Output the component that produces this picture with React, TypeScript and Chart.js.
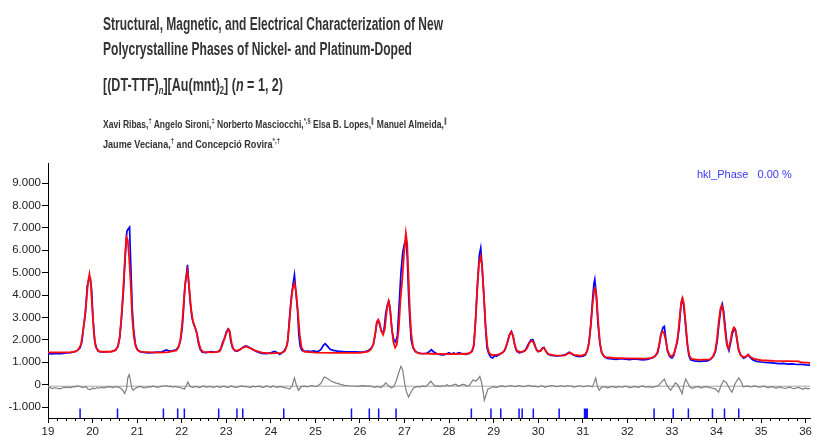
import React, { useEffect, useLayoutEffect, useRef } from "react";
import { Chart, registerables } from "chart.js";

Chart.register(...registerables);

// ---------- axis ticks ----------
const xTickValues = [19, 20, 21, 22, 23, 24, 25, 26, 27, 28, 29, 30, 31, 32, 33, 34, 35, 36];
const yTickValues = [-1000, 0, 1000, 2000, 3000, 4000, 5000, 6000, 7000, 8000, 9000];
const xMinorStep = 0.2;

// ---------- observed pattern (blue) [2theta, counts] ----------
const observed: [number, number][] = [
  [19.0, 1380], [19.1, 1370], [19.2, 1400], [19.3, 1390], [19.4, 1420], [19.5, 1430], [19.6, 1470],
  [19.66, 1530], [19.72, 1650], [19.76, 1900], [19.8, 2600], [19.84, 3200], [19.88, 4400], [19.92, 4720],
  [19.95, 4760], [19.98, 4200], [20.01, 2950], [20.05, 1900], [20.09, 1620], [20.15, 1470], [20.25, 1460],
  [20.35, 1470], [20.45, 1480], [20.52, 1560], [20.57, 1700], [20.61, 2100], [20.65, 3000], [20.69, 4100],
  [20.73, 5600], [20.77, 6850], [20.8, 6950], [20.83, 7030], [20.86, 5200], [20.89, 3400], [20.92, 2500],
  [20.96, 1800], [21.0, 1580], [21.06, 1470], [21.15, 1440], [21.25, 1420], [21.35, 1430], [21.45, 1450],
  [21.55, 1470], [21.62, 1520], [21.66, 1550], [21.72, 1500], [21.8, 1520], [21.88, 1560], [21.93, 1700],
  [21.97, 1950], [22.01, 2500], [22.04, 3300], [22.07, 4350], [22.1, 4800], [22.13, 5350], [22.16, 4500],
  [22.19, 3700], [22.23, 3000], [22.27, 2700], [22.31, 2500], [22.34, 2300], [22.37, 1900], [22.41, 1600],
  [22.46, 1450], [22.55, 1430], [22.65, 1470], [22.75, 1450], [22.82, 1480], [22.87, 1560], [22.92, 1900],
  [22.96, 2050], [23.0, 2350], [23.04, 2480], [23.07, 2430], [23.1, 1950], [23.14, 1650], [23.19, 1520],
  [23.25, 1500], [23.32, 1580], [23.4, 1700], [23.45, 1730], [23.5, 1680], [23.6, 1560], [23.7, 1460],
  [23.8, 1400], [23.9, 1390], [24.0, 1420], [24.08, 1480], [24.14, 1440], [24.2, 1350], [24.25, 1430],
  [24.3, 1500], [24.35, 1700], [24.38, 1950], [24.42, 3000], [24.46, 3900], [24.5, 4500], [24.53, 4900],
  [24.56, 4200], [24.6, 3300], [24.63, 2200], [24.66, 1700], [24.7, 1520], [24.76, 1490], [24.84, 1500],
  [24.9, 1480], [24.96, 1510], [25.05, 1470], [25.12, 1560], [25.18, 1760], [25.22, 1830], [25.27, 1720],
  [25.33, 1580], [25.4, 1530], [25.5, 1500], [25.6, 1480], [25.7, 1460], [25.8, 1470], [25.9, 1470],
  [26.0, 1450], [26.1, 1470], [26.18, 1510], [26.25, 1620], [26.3, 1800], [26.34, 2200], [26.38, 2800],
  [26.41, 2880], [26.44, 2700], [26.48, 2400], [26.51, 2300], [26.54, 2450], [26.58, 3200], [26.62, 3600],
  [26.65, 3700], [26.68, 3300], [26.72, 2400], [26.76, 2000], [26.8, 1900], [26.84, 2200], [26.88, 3600],
  [26.92, 5000], [26.96, 5900], [27.0, 6300], [27.03, 6450], [27.06, 5800], [27.09, 4100], [27.12, 2900],
  [27.15, 2000], [27.19, 1650], [27.24, 1500], [27.3, 1420], [27.4, 1380], [27.5, 1400], [27.56, 1480],
  [27.6, 1560], [27.65, 1470], [27.72, 1390], [27.8, 1340], [27.88, 1330], [27.95, 1380], [28.0, 1430],
  [28.05, 1360], [28.1, 1420], [28.15, 1370], [28.22, 1430], [28.3, 1380], [28.38, 1350], [28.45, 1390],
  [28.52, 1500], [28.56, 1800], [28.6, 3100], [28.64, 4600], [28.68, 5800], [28.71, 6100], [28.74, 5300],
  [28.78, 4000], [28.82, 2500], [28.85, 1650], [28.89, 1380], [28.94, 1220], [28.98, 1190], [29.02, 1300],
  [29.06, 1270], [29.12, 1340], [29.18, 1410], [29.24, 1500], [29.28, 1700], [29.32, 1950], [29.36, 2250],
  [29.4, 2380], [29.44, 2150], [29.48, 1700], [29.52, 1480], [29.58, 1420], [29.64, 1460], [29.7, 1520],
  [29.74, 1650], [29.79, 1850], [29.84, 2000], [29.88, 2010], [29.92, 1800], [29.96, 1560], [30.0, 1480],
  [30.05, 1520], [30.1, 1650], [30.13, 1660], [30.17, 1500], [30.22, 1360], [30.3, 1300], [30.4, 1280],
  [30.5, 1290], [30.6, 1330], [30.66, 1400], [30.7, 1450], [30.76, 1360], [30.84, 1280], [30.92, 1250],
  [31.0, 1270], [31.06, 1330], [31.1, 1520], [31.14, 1900], [31.18, 2700], [31.22, 3800], [31.25, 4500],
  [31.27, 4700], [31.3, 4100], [31.34, 2750], [31.38, 1900], [31.42, 1450], [31.48, 1250], [31.55, 1170],
  [31.65, 1150], [31.75, 1130], [31.85, 1160], [31.95, 1140], [32.05, 1120], [32.15, 1150], [32.25, 1130],
  [32.35, 1110], [32.45, 1130], [32.52, 1170], [32.58, 1210], [32.63, 1290], [32.68, 1420], [32.72, 1800],
  [32.76, 2300], [32.8, 2550], [32.83, 2600], [32.86, 2100], [32.9, 1500], [32.95, 1260], [33.0, 1190],
  [33.04, 1300], [33.08, 1600], [33.12, 1900], [33.16, 2500], [33.2, 3500], [33.23, 3800], [33.26, 3600],
  [33.3, 2800], [33.34, 1900], [33.38, 1300], [33.42, 1110], [33.5, 1060], [33.6, 1040], [33.7, 1050],
  [33.8, 1060], [33.88, 1150], [33.94, 1300], [33.98, 1500], [34.02, 2000], [34.06, 2800], [34.1, 3400],
  [34.13, 3600], [34.16, 3300], [34.2, 2500], [34.24, 1750], [34.28, 1520], [34.32, 1900], [34.36, 2300],
  [34.4, 2500], [34.43, 2400], [34.46, 2000], [34.5, 1500], [34.55, 1300], [34.61, 1180], [34.66, 1230],
  [34.71, 1340], [34.76, 1200], [34.82, 1100], [34.9, 1040], [35.0, 1010], [35.1, 990], [35.2, 980],
  [35.3, 960], [35.4, 940], [35.5, 950], [35.6, 920], [35.7, 930], [35.8, 900], [35.9, 910], [36.0, 880],
  [36.1, 870],
];

// ---------- calculated pattern (red) ----------
const calculated: [number, number][] = [
  [19.0, 1440], [19.5, 1440], [19.62, 1480], [19.68, 1560], [19.74, 1800], [19.78, 2300], [19.82, 2900],
  [19.86, 3700], [19.9, 4600], [19.93, 4940], [19.96, 4500], [19.99, 3500], [20.03, 2300], [20.07, 1700],
  [20.12, 1500], [20.2, 1470], [20.4, 1470], [20.52, 1540], [20.57, 1720], [20.61, 2150], [20.65, 3100],
  [20.69, 4300], [20.73, 5800], [20.76, 6600], [20.79, 6450], [20.82, 5700], [20.86, 4300], [20.89, 3000],
  [20.93, 2100], [20.97, 1700], [21.02, 1520], [21.1, 1460], [21.5, 1430], [21.7, 1450], [21.88, 1530],
  [21.93, 1680], [21.97, 2000], [22.01, 2700], [22.05, 3800], [22.09, 4700], [22.13, 5090], [22.17, 4300],
  [22.21, 3400], [22.25, 2850], [22.3, 2550], [22.34, 2300], [22.38, 1900], [22.42, 1600], [22.48, 1460],
  [22.7, 1440], [22.85, 1480], [22.9, 1700], [22.95, 2000], [23.0, 2300], [23.05, 2480], [23.08, 2350],
  [23.12, 1850], [23.16, 1600], [23.22, 1500], [23.3, 1560], [23.4, 1680], [23.46, 1700], [23.55, 1620],
  [23.65, 1520], [23.8, 1430], [24.0, 1400], [24.25, 1420], [24.32, 1520], [24.37, 1800], [24.41, 2600],
  [24.45, 3600], [24.49, 4300], [24.53, 4540], [24.57, 4100], [24.61, 3200], [24.65, 2200], [24.69, 1650],
  [24.75, 1470], [25.0, 1430], [25.5, 1420], [26.0, 1420], [26.18, 1470], [26.25, 1580], [26.3, 1800],
  [26.34, 2250], [26.38, 2800], [26.41, 2900], [26.44, 2750], [26.48, 2400], [26.52, 2230], [26.56, 2500],
  [26.6, 3300], [26.64, 3720], [26.67, 3500], [26.71, 2600], [26.75, 1900], [26.79, 1650], [26.83, 1800],
  [26.87, 2500], [26.91, 3800], [26.95, 4700], [26.99, 5900], [27.03, 6770], [27.06, 6300], [27.09, 4800],
  [27.12, 3300], [27.15, 2300], [27.19, 1700], [27.24, 1480], [27.32, 1400], [27.6, 1380], [28.0, 1360],
  [28.4, 1380], [28.5, 1450], [28.55, 1700], [28.59, 2700], [28.63, 4200], [28.67, 5400], [28.71, 5730],
  [28.74, 5300], [28.78, 4000], [28.82, 2600], [28.86, 1700], [28.9, 1400], [28.96, 1320], [29.1, 1340],
  [29.2, 1420], [29.26, 1580], [29.31, 1900], [29.35, 2200], [29.39, 2350], [29.43, 2200], [29.47, 1800],
  [29.52, 1520], [29.6, 1450], [29.7, 1500], [29.75, 1620], [29.8, 1850], [29.85, 1960], [29.89, 1900],
  [29.94, 1650], [29.99, 1480], [30.05, 1500], [30.1, 1620], [30.13, 1640], [30.17, 1500], [30.23, 1360],
  [30.4, 1300], [30.6, 1310], [30.68, 1400], [30.73, 1420], [30.8, 1330], [30.95, 1290], [31.05, 1350],
  [31.1, 1500], [31.14, 1850], [31.18, 2600], [31.22, 3600], [31.26, 4250], [31.28, 4315], [31.31, 3900],
  [31.35, 2700], [31.39, 1800], [31.43, 1400], [31.5, 1230], [31.7, 1190], [32.0, 1170], [32.4, 1160],
  [32.55, 1200], [32.62, 1270], [32.67, 1420], [32.71, 1750], [32.75, 2200], [32.79, 2380], [32.82, 2330],
  [32.86, 2000], [32.9, 1550], [32.95, 1320], [33.0, 1260], [33.05, 1400], [33.09, 1700], [33.13, 2100],
  [33.17, 2900], [33.21, 3700], [33.24, 3870], [33.27, 3600], [33.31, 2700], [33.35, 1800], [33.39, 1300],
  [33.44, 1150], [33.6, 1110], [33.85, 1130], [33.92, 1250], [33.97, 1500], [34.01, 2000], [34.05, 2800],
  [34.09, 3400], [34.12, 3550], [34.15, 3300], [34.19, 2500], [34.23, 1800], [34.27, 1600], [34.31, 1900],
  [34.35, 2350], [34.39, 2560], [34.42, 2500], [34.46, 2050], [34.5, 1550], [34.55, 1300], [34.61, 1220],
  [34.66, 1260], [34.71, 1340], [34.76, 1250], [34.84, 1150], [35.0, 1090], [35.3, 1060], [35.6, 1050],
  [35.85, 1040], [35.9, 990], [36.1, 970],
];

// ---------- difference curve (grey) ----------
const difference: [number, number][] = [
  [19.0, -150], [19.05, -120], [19.1, -180], [19.15, -140], [19.2, -150], [19.25, -190], [19.3, -170],
  [19.35, -120], [19.4, -130], [19.45, -100], [19.5, -140], [19.55, -90], [19.6, -100], [19.65, -60],
  [19.7, -80], [19.75, -110], [19.8, -120], [19.85, -90], [19.9, -200], [19.95, -220], [20.0, -150],
  [20.05, -190], [20.1, -130], [20.15, -160], [20.2, -110], [20.25, -140], [20.3, -120], [20.35, -90],
  [20.4, -100], [20.45, -130], [20.5, -90], [20.6, -120], [20.68, -250], [20.72, -400], [20.76, -200],
  [20.79, 300], [20.82, 446], [20.85, 200], [20.88, -150], [20.91, -250], [20.95, -180], [21.0, -120],
  [21.05, -80], [21.1, -100], [21.15, -140], [21.2, -130], [21.25, -90], [21.3, -110], [21.35, -70],
  [21.4, -90], [21.45, -120], [21.5, -100], [21.55, -70], [21.6, -60], [21.65, -40], [21.7, -90],
  [21.75, -70], [21.8, -110], [21.85, -80], [21.9, -100], [22.0, -150], [22.06, -200], [22.1, -50],
  [22.14, 120], [22.18, -60], [22.25, -130], [22.3, -80], [22.35, -100], [22.4, -130], [22.45, -90],
  [22.5, -60], [22.55, -120], [22.6, -90], [22.65, -80], [22.7, -120], [22.75, -100], [22.8, -70],
  [22.85, -130], [22.9, -90], [22.95, -70], [23.0, -110], [23.05, -120], [23.1, -60], [23.15, -90],
  [23.2, -120], [23.25, -110], [23.3, -80], [23.35, -60], [23.4, -90], [23.45, -80], [23.5, -110],
  [23.55, -120], [23.6, -70], [23.65, -100], [23.7, -80], [23.75, -70], [23.8, -120], [23.85, -110],
  [23.9, -60], [23.95, -90], [24.0, -120], [24.05, -60], [24.1, -100], [24.15, -120], [24.2, -80],
  [24.25, -100], [24.3, -130], [24.35, -150], [24.42, -195], [24.48, -50], [24.53, 300], [24.57, 0],
  [24.62, -250], [24.68, -100], [24.75, -60], [24.8, -100], [24.85, -80], [24.9, -40], [24.95, -50],
  [25.0, -90], [25.05, -60], [25.12, 50], [25.2, 340], [25.28, 260], [25.36, 150], [25.45, 80],
  [25.55, 20], [25.65, -30], [25.75, -50], [25.85, -60], [25.95, -80], [26.05, -40], [26.15, -70],
  [26.25, -60], [26.32, -120], [26.4, -80], [26.47, -130], [26.53, -30], [26.58, 75], [26.63, -20],
  [26.7, -140], [26.76, -100], [26.82, 200], [26.88, 600], [26.92, 820], [26.96, 650], [27.0, 100],
  [27.04, -300], [27.09, -550], [27.14, -350], [27.2, -150], [27.25, -110], [27.3, -80], [27.35, -110],
  [27.4, -60], [27.45, -90], [27.5, -50], [27.59, 150], [27.66, -20], [27.7, -80], [27.75, -60],
  [27.8, -90], [27.85, -40], [27.9, -70], [27.95, 0], [28.0, -60], [28.05, -40], [28.1, -10],
  [28.15, 20], [28.2, -60], [28.25, -30], [28.3, 10], [28.35, 0], [28.4, -70], [28.45, -50],
  [28.5, 100], [28.54, 220], [28.6, 150], [28.65, 250], [28.69, 370], [28.73, 100], [28.77, -400],
  [28.79, -700], [28.83, -450], [28.87, -200], [28.93, -150], [29.0, -80], [29.05, -130], [29.1, -100],
  [29.15, -70], [29.2, -60], [29.25, -100], [29.3, -70], [29.35, -50], [29.4, -40], [29.45, -80],
  [29.5, -90], [29.55, -40], [29.6, -50], [29.65, -90], [29.7, -80], [29.75, -50], [29.8, -30],
  [29.85, -80], [29.9, -70], [30.0, -100], [30.08, -40], [30.15, -120], [30.2, -80], [30.25, -70],
  [30.3, -40], [30.35, -50], [30.4, -90], [30.45, -80], [30.5, -50], [30.55, -60], [30.6, -90],
  [30.65, -40], [30.7, -60], [30.75, -70], [30.8, -110], [30.85, -90], [30.9, -50], [30.95, -60],
  [31.0, -90], [31.05, -80], [31.1, -50], [31.15, -60], [31.22, -100], [31.29, 300], [31.33, -100],
  [31.37, -250], [31.42, -120], [31.5, -90], [31.55, -140], [31.6, -120], [31.65, -80], [31.7, -100],
  [31.75, -130], [31.8, -80], [31.85, -100], [31.9, -110], [31.95, -70], [32.0, -90], [32.05, -130],
  [32.1, -120], [32.15, -80], [32.2, -100], [32.25, -120], [32.3, -80], [32.35, -60], [32.4, -110],
  [32.45, -100], [32.5, -90], [32.55, -120], [32.6, -100], [32.7, -40], [32.78, 150], [32.83, 250],
  [32.88, 0], [32.97, -250], [33.02, -100], [33.08, 75], [33.13, 0], [33.18, -200], [33.23, -400],
  [33.27, 0], [33.31, 250], [33.35, 100], [33.4, -100], [33.45, -160], [33.5, -130], [33.55, -100],
  [33.6, -90], [33.65, -140], [33.7, -120], [33.75, -90], [33.8, -100], [33.85, -130], [33.9, -150],
  [33.98, -200], [34.05, -340], [34.1, -50], [34.16, 180], [34.22, 100], [34.3, -200], [34.35, -340],
  [34.42, 50], [34.5, 300], [34.55, 150], [34.6, -100], [34.65, -80], [34.7, -60], [34.75, -100],
  [34.8, -90], [34.85, -60], [34.9, -80], [34.95, -110], [35.0, -100], [35.05, -70], [35.1, -90],
  [35.15, -130], [35.2, -110], [35.25, -90], [35.3, -130], [35.35, -150], [35.4, -100], [35.45, -120],
  [35.5, -150], [35.55, -170], [35.6, -130], [35.65, -110], [35.7, -160], [35.75, -180], [35.8, -140],
  [35.85, -120], [35.9, -180], [35.95, -200], [36.0, -150], [36.05, -190], [36.1, -170],
];

const differenceZero = -70;

// ---------- hkl reflection positions ----------
const hklPositions = [
  19.72, 20.56, 21.59, 21.91, 22.06, 22.83, 23.24, 23.37, 24.29, 25.81, 26.21, 26.42, 26.81,
  28.5, 28.94, 29.16, 29.57, 29.64, 29.89, 30.47, 31.04, 31.07, 31.1, 32.6, 33.03, 33.37, 33.91,
  34.18, 34.5,
];
const hklTop = -1070;

const X_MIN = 19;
const X_MAX = 36.1;
const Y_MIN = -1490;
const Y_MAX = 9900;

const FONT = "'Liberation Sans', Arial, Helvetica, sans-serif";

function formatThousands(v: number): string {
  if (v === 0) return "0";
  const sign = v < 0 ? "-" : "";
  const a = Math.abs(v);
  const th = Math.floor(a / 1000);
  const rest = String(Math.round(a % 1000)).padStart(3, "0");
  return `${sign}${th}.${rest}`;
}

const minorTickPlugin = {
  id: "minorTicks",
  afterDraw(chart: any) {
    const { ctx, chartArea } = chart;
    const xs = chart.scales.x;
    ctx.save();
    ctx.strokeStyle = "#000";
    ctx.lineWidth = 1;
    const n = Math.round((36 - X_MIN) / xMinorStep);
    for (let i = 1; i <= n; i++) {
      const v = X_MIN + i * xMinorStep;
      if (Math.abs(v - Math.round(v)) < 1e-6) continue;
      const px = Math.round(xs.getPixelForValue(v)) + 0.5;
      ctx.beginPath();
      ctx.moveTo(px, chartArea.bottom);
      ctx.lineTo(px, chartArea.bottom + 3);
      ctx.stroke();
    }
    ctx.restore();
  },
};

function FitLine({
  left,
  top,
  width,
  fontSize,
  bold,
  color,
  children,
}: {
  left: number;
  top: number;
  width: number;
  fontSize: number;
  bold?: boolean;
  color: string;
  children: React.ReactNode;
}) {
  const ref = useRef<HTMLSpanElement>(null);
  useLayoutEffect(() => {
    const el = ref.current;
    if (!el) return;
    el.style.transform = "none";
    const w = el.getBoundingClientRect().width;
    if (w > 0) el.style.transform = `scaleX(${width / w})`;
  }, [width]);
  return (
    <span
      ref={ref}
      style={{
        position: "absolute",
        left,
        top,
        whiteSpace: "nowrap",
        fontFamily: FONT,
        fontSize,
        fontWeight: bold ? 700 : 400,
        lineHeight: 1,
        color,
        transformOrigin: "0 0",
        filter: "blur(0.4px)",
      }}
    >
      {children}
    </span>
  );
}

export default function App() {
  const canvasRef = useRef<HTMLCanvasElement>(null);

  useEffect(() => {
    const canvas = canvasRef.current;
    if (!canvas) return;
    const toPts = (arr: [number, number][]) => arr.map(([x, y]) => ({ x, y }));
    const hklData: { x: number; y: number | null }[] = [];
    hklPositions.forEach((p) => {
      hklData.push({ x: p, y: hklTop });
      hklData.push({ x: p, y: Y_MIN });
      hklData.push({ x: p, y: null });
    });

    const chart = new Chart(canvas, {
      type: "line",
      data: {
        datasets: [
          {
            label: "Calculated",
            data: toPts(calculated),
            borderColor: "#ff0a0a",
            borderWidth: 1.8,
            pointRadius: 0,
            tension: 0,
          },
          {
            label: "Observed",
            data: toPts(observed),
            borderColor: "#0000ff",
            borderWidth: 1.7,
            pointRadius: 0,
            tension: 0,
          },
          {
            label: "Difference",
            data: toPts(difference),
            borderColor: "#7f7f7f",
            borderWidth: 1.2,
            pointRadius: 0,
            tension: 0,
          },
          {
            label: "Zero",
            data: [
              { x: X_MIN, y: differenceZero },
              { x: X_MAX, y: differenceZero },
            ],
            borderColor: "#a8a8a8",
            borderWidth: 1,
            pointRadius: 0,
          },
          {
            label: "hkl_Phase",
            data: hklData as any,
            borderColor: "#1010ff",
            borderWidth: 1.5,
            pointRadius: 0,
            spanGaps: false,
          },
        ],
      },
      options: {
        animation: false,
        responsive: false,
        devicePixelRatio: 1,
        events: [],
        layout: { padding: { top: 163, right: 2, left: 0, bottom: 0 } },
        plugins: {
          legend: { display: false },
          tooltip: { enabled: false },
          title: { display: false },
        },
        scales: {
          x: {
            type: "linear",
            min: X_MIN,
            max: X_MAX,
            afterBuildTicks: (s: any) => {
              s.ticks = xTickValues.map((v) => ({ value: v }));
            },
            afterFit: (s: any) => {
              s.height = 19;
            },
            ticks: {
              autoSkip: false,
              maxRotation: 0,
              padding: 2,
              color: "#222",
              font: { family: FONT, size: 11.5 },
              callback: (v: any) => String(v),
            },
            grid: {
              drawOnChartArea: false,
              drawTicks: true,
              tickLength: 5,
              color: "#000",
            },
            border: { display: true, color: "#000", width: 1 },
          },
          y: {
            type: "linear",
            min: Y_MIN,
            max: Y_MAX,
            afterBuildTicks: (s: any) => {
              s.ticks = yTickValues.map((v) => ({ value: v }));
            },
            afterFit: (s: any) => {
              s.width = 48;
            },
            ticks: {
              autoSkip: false,
              padding: 1,
              color: "#222",
              font: { family: FONT, size: 11.5 },
              callback: (v: any) => formatThousands(Number(v)),
            },
            grid: {
              drawOnChartArea: false,
              drawTicks: true,
              tickLength: 6,
              color: "#000",
            },
            border: { display: true, color: "#000", width: 1 },
          },
        },
      },
      plugins: [minorTickPlugin],
    });

    return () => chart.destroy();
  }, []);

  const dark = "#333333";

  return (
    <div
      style={{
        position: "fixed",
        left: 0,
        top: 0,
        width: 814,
        height: 437,
        background: "#fff",
        overflow: "hidden",
      }}
    >
      <canvas
        ref={canvasRef}
        width={814}
        height={437}
        style={{ position: "absolute", left: 0, top: 0, width: 814, height: 437 }}
      />
      <FitLine left={103} top={15} width={340} fontSize={18} bold color={dark}>
        Structural, Magnetic, and Electrical Characterization of New
      </FitLine>
      <FitLine left={103} top={39.5} width={309} fontSize={18} bold color={dark}>
        Polycrystalline Phases of Nickel- and Platinum-Doped
      </FitLine>
      <FitLine left={103} top={76} width={180} fontSize={18} bold color={dark}>
        [(DT-TTF)
        <sub style={{ fontSize: 11, fontStyle: "italic", verticalAlign: "-3px" }}>n</sub>
        ][Au(mnt)
        <sub style={{ fontSize: 11, verticalAlign: "-3px" }}>2</sub>] (<i>n</i> = 1, 2)
      </FitLine>
      <FitLine left={103} top={117} width={344} fontSize={10.5} bold color={dark}>
        Xavi Ribas,<sup style={{ fontSize: 7 }}>†</sup> Angelo Sironi,
        <sup style={{ fontSize: 7 }}>‡</sup> Norberto Masciocchi,
        <sup style={{ fontSize: 7 }}>*,§</sup> Elsa B. Lopes,
        <sup style={{ fontSize: 7 }}>∥</sup> Manuel Almeida,
        <sup style={{ fontSize: 7 }}>∥</sup>
      </FitLine>
      <FitLine left={103} top={137} width={177} fontSize={10.5} bold color={dark}>
        Jaume Veciana,<sup style={{ fontSize: 7 }}>†</sup> and Concepció Rovira
        <sup style={{ fontSize: 7 }}>*,†</sup>
      </FitLine>
      <div
        style={{
          position: "absolute",
          left: 697,
          top: 169,
          fontFamily: FONT,
          fontSize: 11,
          lineHeight: 1,
          color: "#3a3aff",
          whiteSpace: "pre",
        }}
      >
        {"hkl_Phase   0.00 %"}
      </div>
    </div>
  );
}
